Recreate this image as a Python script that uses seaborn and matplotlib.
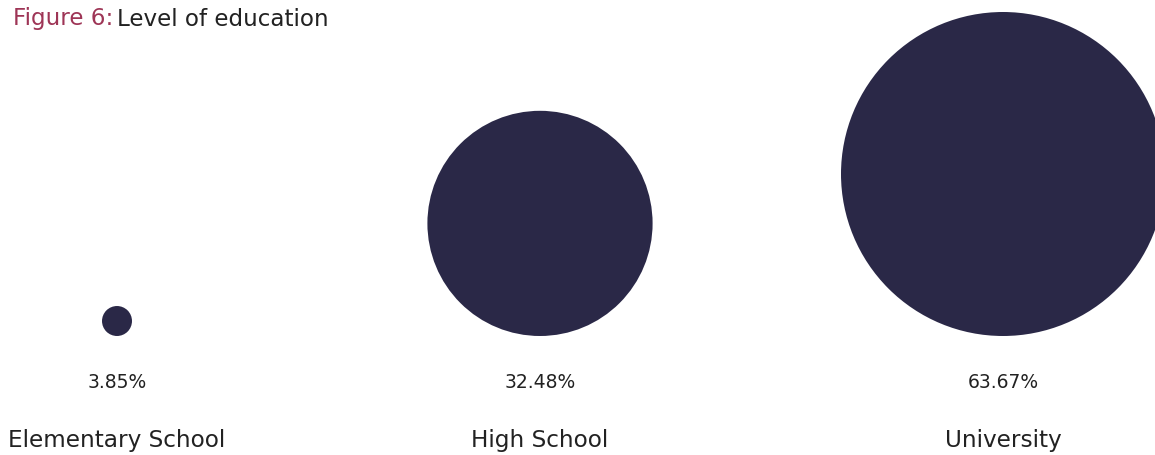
import numpy as np
import pandas as pd
import matplotlib
matplotlib.use("Agg")
import matplotlib.pyplot as plt
import seaborn as sns

# Data
levels = ["Elementary School", "High School", "University"]
shares = [3.85, 32.48, 63.67]

# Layout (figure pixels)
W, H, DPI = 1155, 455, 100
x_pos = [117, 540, 1003]
baseline = 336
size_range = (466.0, 54420.0)  # marker area in pt^2

sns.set_theme(style="white")
plt.rcParams["font.family"] = ["DejaVu Sans"]

circle_color = "#2a2847"
text_color = "#222222"
accent = "#9e3556"

# Marker area follows seaborn's linear size normalisation
lo, hi = min(shares), max(shares)
areas = [size_range[0] + (v - lo) / (hi - lo) * (size_range[1] - size_range[0]) for v in shares]
radius_px = [np.sqrt(a) / 2 * DPI / 72 for a in areas]
y_pos = [baseline - r for r in radius_px]

df = pd.DataFrame({"level": levels, "share": shares, "x": x_pos, "y": y_pos})

fig = plt.figure(figsize=(W / DPI, H / DPI), dpi=DPI)
ax = fig.add_axes([0, 0, 1, 1])
sns.scatterplot(data=df, x="x", y="y", size="share", sizes=size_range,
                size_norm=(lo, hi), color=circle_color, linewidth=0,
                legend=False, ax=ax, clip_on=False)
ax.set_xlim(0, W)
ax.set_ylim(H, 0)
ax.axis("off")

for xp, v, name in zip(x_pos, shares, levels):
    ax.text(xp, 383, f"{v:.2f}%", ha="center", va="center", fontsize=13.5, color=text_color)
    ax.text(xp, 440, name, ha="center", va="center", fontsize=16.7, color=text_color)

t1 = ax.text(13, 19, "Figure 6:", ha="left", va="center", fontsize=16.6, color=accent)
fig.canvas.draw()
bb = t1.get_window_extent()
x_next = ax.transData.inverted().transform((bb.x1, 0))[0]
ax.text(x_next + 4, 19, "Level of education", ha="left", va="center", fontsize=16.6, color=text_color)

fig.savefig("out.png", dpi=DPI)
